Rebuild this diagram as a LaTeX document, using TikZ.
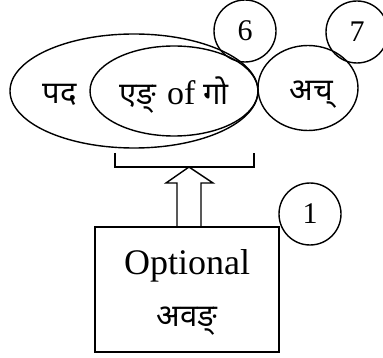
\documentclass[tikz,border=0pt]{standalone}
\usepackage{fontspec}
\setmainfont{Liberation Serif}
\newfontfamily\deva[Script=Devanagari]{Noto Sans}
\usetikzlibrary{shapes.geometric}
\tikzset{
  ln/.style={line width=1.4pt},
  ell/.style={draw, ln, ellipse, inner sep=0pt},
  numc/.style={draw, ln, circle, minimum size=62pt, inner sep=0pt, font=\fontsize{30}{30}\selectfont},
  dtxt/.style={font=\deva\fontsize{31}{31}\selectfont, inner sep=0pt},
  ltxt/.style={font=\fontsize{36}{36}\selectfont, inner sep=0pt}
}
\begin{document}
\begin{tikzpicture}[x=1pt,y=-1pt]
\useasboundingbox (0,0) rectangle (383,358);
\node[ell, minimum width=248pt, minimum height=114pt] (outer) at (134,91) {};
\node[ell, minimum width=168pt, minimum height=90pt] (inner) at (174,91) {};
\node[ell, minimum width=100pt, minimum height=85pt] (ach) at (308,88) {};
\node[numc] (c6) at (245,31) {6};
\node[numc] (c7) at (357,32) {7};
\node[numc] (c1) at (310,214) {1};
\node[dtxt] (pada) at (60,95) {पद};
\node[inner sep=0pt, font=\fontsize{34}{34}\selectfont] (eng) at (174,95) {{\deva\fontsize{31}{31}\selectfont एङ्}\hspace{11pt}of\hspace{8pt}{\deva\fontsize{31}{31}\selectfont गो}};
\node[dtxt] (achtxt) at (311,95) {अच्};
\node[draw, ln, minimum width=184pt, minimum height=125pt, inner sep=0pt] (box) at (187,289.5) {};
\node[ltxt] (opt) at (187,266) {Optional};
\node[dtxt] (avang) at (187,321) {अवङ्};
\coordinate (brL) at (115,153);
\coordinate (brR) at (254,153);
\coordinate (tip) at (189,167);
\draw[ln] (brL) -- (brL |- tip) -- (brR |- tip) -- (brR);
\draw[ln, line join=miter] (box.north -| 177,0) -- (177,183) -- (166,183) -- (tip) -- (213,183) -- (201,183) -- (box.north -| 201,0);
\end{tikzpicture}
\end{document}
